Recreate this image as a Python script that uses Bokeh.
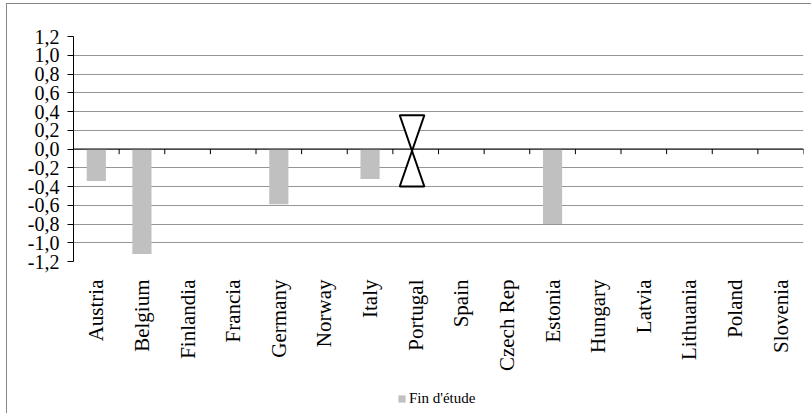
from bokeh.plotting import figure
from bokeh.layouts import column
from bokeh.models import (ColumnDataSource, FixedTicker, LinearAxis, Range1d,
                          Legend, LegendItem, Span)
from bokeh.embed import file_html
from bokeh.resources import INLINE

# Countries along the horizontal axis
countries = ["Austria", "Belgium", "Finlandia", "Francia", "Germany", "Norway",
             "Italy", "Portugal", "Spain", "Czech Rep", "Estonia", "Hungary",
             "Latvia", "Lithuania", "Poland", "Slovenia"]

# "Fin d'étude" series (NaN where no value is reported)
nan = float("nan")
fin_etude = [-0.34, -1.12, nan, nan, -0.59, nan, -0.32, nan, nan, nan,
             -0.80, nan, nan, nan, nan, nan]

# Portugal: range shown as an hourglass marker
portugal_high = 0.36
portugal_low = -0.40

# Value axis ticks and their labels (decimal comma)
y_ticks = [-1.2, -1.0, -0.8, -0.6, -0.4, -0.2, 0.0, 0.2, 0.4, 0.6, 0.8, 1.0, 1.2]
y_tick_labels = ["-1,2", "-1,0", "-0,8", "-0,6", "-0,4", "-0,2", "0,0",
                 "0,2", "0,4", "0,6", "0,8", "1,0", "1,2"]

FONT = "Liberation Serif"
BAR_COLOR = "#c0c0c0"
n = len(countries)
centers = [i + 0.5 for i in range(n)]
bounds = list(range(n + 1))

src = ColumnDataSource(dict(x=centers, top=fin_etude))

p = figure(width=804, height=377, output_backend="svg", toolbar_location=None,
           x_range=Range1d(0, n), y_range=Range1d(-1.2, 1.2),
           min_border_left=66, min_border_right=8, min_border_top=32,
           min_border_bottom=120, x_axis_type=None,
           background_fill_color="white", border_fill_color="white")
p.outline_line_color = None

# horizontal gridlines
p.ygrid.ticker = FixedTicker(ticks=y_ticks)
p.ygrid.grid_line_color = "#969696"
p.ygrid.grid_line_width = 1
p.xgrid.visible = False

p.vbar(x="x", top="top", bottom=0, width=0.42, source=src,
       fill_color=BAR_COLOR, line_color=None)

# category boundary ticks hanging from the zero line
tick_len = 0.055
p.segment(x0=bounds, y0=[0] * len(bounds), x1=bounds, y1=[-tick_len] * len(bounds),
          line_color="black", line_width=1)
p.add_layout(Span(location=0, dimension="width", line_color="black", line_width=1))

# hourglass marker for Portugal
ci = countries.index("Portugal") + 0.5 - 0.08
hw = 0.27
p.patch(x=[ci - hw, ci + hw, ci - hw, ci + hw, ci - hw],
        y=[portugal_high, portugal_high, portugal_low, portugal_low, portugal_high],
        fill_color="white", line_color="black", line_width=2)

# value axis
yax = p.yaxis[0]
yax.ticker = FixedTicker(ticks=y_ticks)
yax.major_label_overrides = dict(zip(y_ticks, y_tick_labels))
yax.axis_line_color = "black"
yax.major_tick_line_color = "black"
yax.major_tick_out = 6
yax.major_tick_in = 0
yax.minor_tick_line_color = None
yax.major_label_text_font = FONT
yax.major_label_text_font_size = "20px"
yax.major_label_text_color = "black"
yax.major_label_standoff = 8

# category labels under the plot area
lab_axis = LinearAxis(ticker=FixedTicker(ticks=centers))
lab_axis.major_label_overrides = dict(zip(centers, countries))
lab_axis.axis_line_color = None
lab_axis.major_tick_line_color = None
lab_axis.major_tick_out = 0
lab_axis.major_tick_in = 0
lab_axis.minor_tick_line_color = None
lab_axis.major_label_orientation = 3.14159265 / 2
lab_axis.major_label_text_font = FONT
lab_axis.major_label_text_font_size = "21px"
lab_axis.major_label_text_color = "black"
lab_axis.major_label_standoff = 18
p.add_layout(lab_axis, "below")

# legend strip under the chart (its frame lines up with the chart frame)
leg = figure(width=804, height=32, output_backend="svg", toolbar_location=None,
             x_range=Range1d(0, 1), y_range=Range1d(0, 1), min_border=0,
             x_axis_type=None, y_axis_type=None,
             background_fill_color="white", border_fill_color="white")
leg.outline_line_color = None
leg.grid.visible = False
swatch = leg.vbar(x=[nan], top=[nan], width=0.42, fill_color=BAR_COLOR, line_color=None)
legend = Legend(items=[LegendItem(label="Fin d'étude", renderers=[swatch])],
                location=(324, 6), orientation="horizontal",
                glyph_width=9, glyph_height=9, label_standoff=3,
                padding=0, margin=0, border_line_color=None,
                background_fill_alpha=0,
                label_text_font=FONT, label_text_font_size="15px",
                label_text_color="black")
leg.add_layout(legend, "center")

layout = column(p, leg, spacing=0)
layout.margin = (3, 0, 0, 6)
layout.styles = {"border-left": "1px solid #868686", "border-top": "1px solid #868686"}

open("out.html", "w").write(file_html(layout, INLINE))
